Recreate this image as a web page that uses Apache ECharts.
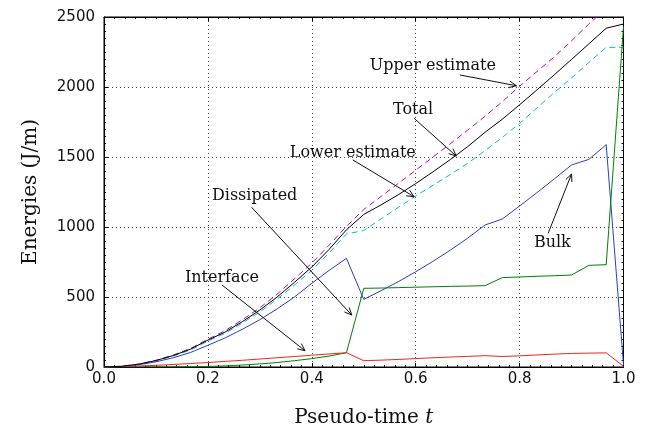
<!DOCTYPE html>
<html>
<head>
<meta charset="utf-8">
<script src="https://cdn.jsdelivr.net/npm/echarts@6/dist/echarts.min.js"></script>
<style>
html,body{margin:0;padding:0;background:#fff;}
#chart{width:648px;height:426px;}
</style>
</head>
<body>
<div id="chart"></div>
<script>
// Pseudo-time samples
var tValues = [0.0, 0.0333, 0.0667, 0.1, 0.1333, 0.1667, 0.2, 0.2333, 0.2667, 0.3, 0.3333, 0.3667, 0.4, 0.4333, 0.4667,
               0.5, 0.5333, 0.5667, 0.6, 0.6333, 0.6667, 0.7, 0.7333, 0.7667, 0.8, 0.8333, 0.8667, 0.9, 0.9333, 0.9667, 1.0];
var upperEstimate = [0, 5, 21, 48, 85, 133, 198, 260, 338, 423, 520, 630, 742, 870, 1005,
                     1125, 1218, 1312, 1405, 1500, 1595, 1692, 1790, 1895, 2005, 2110, 2215, 2330, 2450, 2560, 2670];
var total = [0, 5, 20, 46, 82, 128, 192, 250, 325, 407, 500, 605, 714, 840, 980,
             1090, 1158, 1231, 1310, 1394, 1482, 1574, 1676, 1770, 1873, 1979, 2087, 2197, 2308, 2420, 2450];
var lowerEstimate = [0, 5, 19, 44, 78, 122, 185, 242, 315, 393, 485, 585, 690, 815, 950,
                     975, 1058, 1140, 1222, 1298, 1375, 1455, 1545, 1640, 1740, 1850, 1960, 2065, 2175, 2283, 2283];
var bulk = [0, 4, 16, 37, 66, 104, 155, 208, 270, 338, 415, 500, 598, 690, 776,
            483, 545, 610, 680, 755, 835, 920, 1014, 1057, 1150, 1245, 1343, 1443, 1483, 1588, 15];
var dissipated = [0, 0, 0, 0, 1, 2, 4, 8, 14, 22, 32, 45, 60, 78, 102,
                  562, 564, 567, 570, 573, 576, 578, 581, 638, 643, 648, 652, 657, 726, 731, 2430];
var interfaceE = [0, 3, 7, 12, 18, 25, 32, 40, 48, 57, 66, 75, 84, 93, 102,
                  45, 49, 54, 60, 66, 71, 76, 81, 75, 80, 86, 92, 97, 99, 101, 5];
var xTicks = [0.0, 0.2, 0.4, 0.6, 0.8, 1.0];
var yTicks = [0, 500, 1000, 1500, 2000, 2500];

function pairs(vals){ return tValues.map(function(t,i){ return [t, vals[i]]; }); }

var serifFont = '"DejaVu Serif", "Liberation Serif", serif';
var sansFont = '"DejaVu Sans", sans-serif';

var chart = echarts.init(document.getElementById('chart'), null, {renderer:'canvas'});

function lineSeries(name, vals, color, dashed){
  return {
    name: name, type: 'line', data: pairs(vals), showSymbol: false, symbol: 'none',
    clip: true, animation: false, z: 3,
    lineStyle: {color: color, width: 1, type: dashed ? [6,4] : 'solid'}
  };
}

var gridLine = {show: true, lineStyle: {color: '#444', width: 1, type: [1,3]}};

chart.setOption({
  backgroundColor: '#fff',
  animation: false,
  grid: {left: 104, right: 24.5, top: 17, bottom: 59, show: true, borderColor: '#000', borderWidth: 1,
         backgroundColor: 'transparent', containLabel: false, outerBoundsMode: 'none'},
  xAxis: [{
    type: 'value', min: 0, max: 1, interval: 0.2, position: 'bottom',
    axisLine: {show: true, onZero: false, lineStyle: {color: '#000', width: 1}},
    axisTick: {show: true, inside: true, length: 4, lineStyle: {color: '#000'}},
    minorTick: {show: true, splitNumber: 10, length: 2, lineStyle: {color: '#000'}},
    splitLine: gridLine,
    axisLabel: {color: '#111', fontFamily: sansFont, fontSize: 15, margin: 5,
      formatter: function(v){ return xTicks.indexOf(Math.round(v*10)/10) >= 0 ? v.toFixed(1) : ''; }},
    name: 'Pseudo-time {i|t}', nameLocation: 'middle', nameGap: 41,
    nameTextStyle: {color: '#111', fontFamily: serifFont, fontSize: 20,
      rich: {i: {fontStyle: 'italic', fontFamily: serifFont, fontSize: 20, color: '#111'}}}
  },{
    type: 'value', min: 0, max: 1, interval: 0.2, position: 'top',
    axisLine: {show: true, onZero: false, lineStyle: {color: '#000'}},
    axisTick: {show: true, inside: true, length: 4, lineStyle: {color: '#000'}},
    minorTick: {show: true, splitNumber: 10, length: 2, lineStyle: {color: '#000'}},
    axisLabel: {show: false}, splitLine: {show: false}
  }],
  yAxis: [{
    type: 'value', min: 0, max: 2500, interval: 500, position: 'left',
    axisLine: {show: true, onZero: false, lineStyle: {color: '#000', width: 1}},
    axisTick: {show: true, inside: true, length: 4, lineStyle: {color: '#000'}},
    minorTick: {show: true, splitNumber: 10, length: 2, lineStyle: {color: '#000'}},
    splitLine: gridLine,
    axisLabel: {color: '#111', fontFamily: sansFont, fontSize: 15, margin: 9,
      formatter: function(v){ return yTicks.indexOf(v) >= 0 ? String(v) : ''; }},
    name: 'Energies (J/m)', nameLocation: 'middle', nameGap: 63, nameRotate: 90,
    nameTextStyle: {color: '#111', fontFamily: serifFont, fontSize: 20}
  },{
    type: 'value', min: 0, max: 2500, interval: 500, position: 'right',
    axisLine: {show: true, onZero: false, lineStyle: {color: '#000'}},
    axisTick: {show: true, inside: true, length: 4, lineStyle: {color: '#000'}},
    minorTick: {show: true, splitNumber: 10, length: 2, lineStyle: {color: '#000'}},
    axisLabel: {show: false}, splitLine: {show: false}
  }],
  series: [
    lineSeries('Upper estimate', upperEstimate, '#bf00bf', true),
    lineSeries('Lower estimate', lowerEstimate, '#00bfbf', true),
    lineSeries('Bulk', bulk, '#2a3fbf', false),
    lineSeries('Dissipated', dissipated, '#008000', false),
    lineSeries('Interface', interfaceE, '#e8281c', false),
    lineSeries('Total', total, '#000000', false)
  ]
});

// Annotations in data coordinates: label centre and arrow from -> to
var annotations = [
  {text: 'Upper estimate', at: [0.633, 2150], from: [0.685, 2086], to: [0.794, 2009]},
  {text: 'Total',          at: [0.595, 1836], from: [0.597, 1776], to: [0.678, 1507]},
  {text: 'Lower estimate', at: [0.479, 1531], from: [0.479, 1479], to: [0.597, 1216]},
  {text: 'Dissipated',     at: [0.290, 1224], from: [0.284, 1141], to: [0.477, 371]},
  {text: 'Interface',      at: [0.227, 638],  from: [0.227, 586],  to: [0.387, 116]},
  {text: 'Bulk',           at: [0.863, 888],  from: [0.855, 955],  to: [0.900, 1379]}
];

var elements = [];
annotations.forEach(function(a){
  var c = chart.convertToPixel({gridIndex: 0}, a.at);
  var p1 = chart.convertToPixel({gridIndex: 0}, a.from);
  var p2 = chart.convertToPixel({gridIndex: 0}, a.to);
  elements.push({type: 'text', x: c[0], y: c[1], z: 10,
    style: {text: a.text, fill: '#111', font: '16px ' + serifFont, align: 'center', verticalAlign: 'middle'}});
  elements.push({type: 'line', z: 10, shape: {x1: p1[0], y1: p1[1], x2: p2[0], y2: p2[1]},
    style: {stroke: '#111', lineWidth: 1}});
  var ang = Math.atan2(p2[1]-p1[1], p2[0]-p1[0]);
  var L = 8, w = 0.42;
  var a1 = [p2[0] - L*Math.cos(ang - w), p2[1] - L*Math.sin(ang - w)];
  var a2 = [p2[0] - L*Math.cos(ang + w), p2[1] - L*Math.sin(ang + w)];
  elements.push({type: 'polyline', z: 10, shape: {points: [a1, p2, a2]},
    style: {stroke: '#111', lineWidth: 1, fill: null}});
});
chart.setOption({graphic: {elements: elements}});
</script>
</body>
</html>
